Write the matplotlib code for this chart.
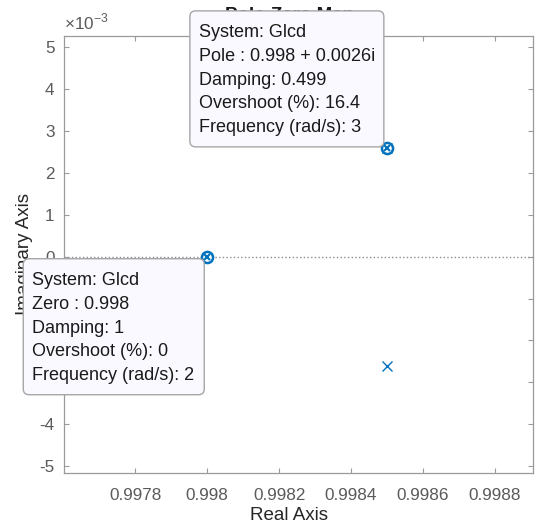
import numpy as np
import matplotlib.pyplot as plt
from matplotlib.patches import FancyBboxPatch
from matplotlib.ticker import FuncFormatter

plt.rcParams['font.family'] = ['Liberation Sans', 'DejaVu Sans']
plt.rcParams['axes.unicode_minus'] = False
plt.rcParams['mathtext.fontset'] = 'custom'
plt.rcParams['mathtext.rm'] = 'Liberation Sans'

# pole / zero locations of Glcd (z-plane)
pole_re = [0.9985, 0.9985]
pole_im = [0.0026, -0.0026]
zero_re = [0.998]
zero_im = [0.0]

x_ticks = [0.9978, 0.998, 0.9982, 0.9984, 0.9986, 0.9988]
y_ticks = [-5e-3, -4e-3, -3e-3, -2e-3, -1e-3, 0, 1e-3, 2e-3, 3e-3, 4e-3, 5e-3]

pole_tip = ['System: Glcd', 'Pole : 0.998 + 0.0026i', 'Damping: 0.499',
            'Overshoot (%): 16.4', 'Frequency (rad/s): 3']
zero_tip = ['System: Glcd', 'Zero : 0.998', 'Damping: 1',
            'Overshoot (%): 0', 'Frequency (rad/s): 2']

blue = (0, 0.447, 0.741)
axcol = '#9a9a9a'
tickcol = '#5a5a5a'

W, H = 535, 525
fig = plt.figure(figsize=(W / 100, H / 100), dpi=100)
ax = fig.add_axes([64.3 / W, 52.3 / H, 468.4 / W, 437.0 / H])

ax.set_xlim(0.997602, 0.998906)
ax.set_ylim(-5.16e-3, 5.28e-3)

# dotted line through the real axis
ax.axhline(0, color='#8c8c8c', linestyle=':', linewidth=1.0, zorder=1)

ax.plot(pole_re, pole_im, linestyle='none', marker='x', color=blue,
        markersize=7, markeredgewidth=1.0, zorder=3)
ax.plot(zero_re, zero_im, linestyle='none', marker='o', color=blue,
        markerfacecolor='none', markersize=7, markeredgewidth=1.0, zorder=3)

ax.set_xticks(x_ticks)
ax.set_yticks(y_ticks)
ax.xaxis.set_major_formatter(FuncFormatter(lambda v, _: f'{v:g}'))
ax.yaxis.set_major_formatter(FuncFormatter(lambda v, _: f'{round(v * 1e3):d}'))
ax.tick_params(direction='in', top=True, right=True, length=3.8, width=0.8,
               color=axcol, labelcolor=tickcol, labelsize=12.3)
ax.tick_params(axis='x', pad=11)
ax.tick_params(axis='y', pad=7)
for s in ax.spines.values():
    s.set_color(axcol)
    s.set_linewidth(0.9)

ax.text(0.0, 1.008, r'$\times10^{-3}$', transform=ax.transAxes, ha='left',
        va='bottom', fontsize=12.3, color=tickcol)

ax.set_title('Pole-Zero Map', fontweight='bold', fontsize=13.5, pad=11,
             x=0.48, color='#1a1a1a')
ax.set_xlabel('Real Axis', fontsize=13.5, color='#262626')
ax.set_ylabel('Imaginary Axis', fontsize=13.5, color='#262626')
ax.xaxis.set_label_coords(0.48, -0.078)
ax.yaxis.set_label_coords(-0.084, 0.5)
ax.yaxis.label.set_va('center')


def datatip(x, y, lines, w, h, corner):
    px, py = ax.transData.transform((x, y))
    # highlighted point marker
    ax.plot([x], [y], marker='o', markersize=8, markerfacecolor='white',
            markeredgecolor=blue, markeredgewidth=1.8, linestyle='none', zorder=6)
    ax.plot([x], [y], marker='x', markersize=4.5, color=blue,
            markeredgewidth=1.5, linestyle='none', zorder=7)
    right = px - 3
    if corner == 'br':
        bottom = py + 1
    else:
        bottom = py - 2 - h
    left = right - w
    top = bottom + h
    box = FancyBboxPatch((left / W, bottom / H), w / W, h / H,
                         boxstyle='round,pad=0,rounding_size=0.011',
                         transform=fig.transFigure, facecolor='#f9f9ff',
                         edgecolor='#a6a6a6', linewidth=1.0, zorder=10)
    fig.patches.append(box)
    for i, s in enumerate(lines):
        fig.text((left + 9) / W, (top - 22 - 23.7 * i) / H, s, ha='left',
                 va='center', fontsize=13, color='#1a1a1a', zorder=11)


datatip(pole_re[0], pole_im[0], pole_tip, 194, 136, 'br')
datatip(zero_re[0], zero_im[0], zero_tip, 181, 136, 'tr')

fig.savefig('out.png', dpi=100)
